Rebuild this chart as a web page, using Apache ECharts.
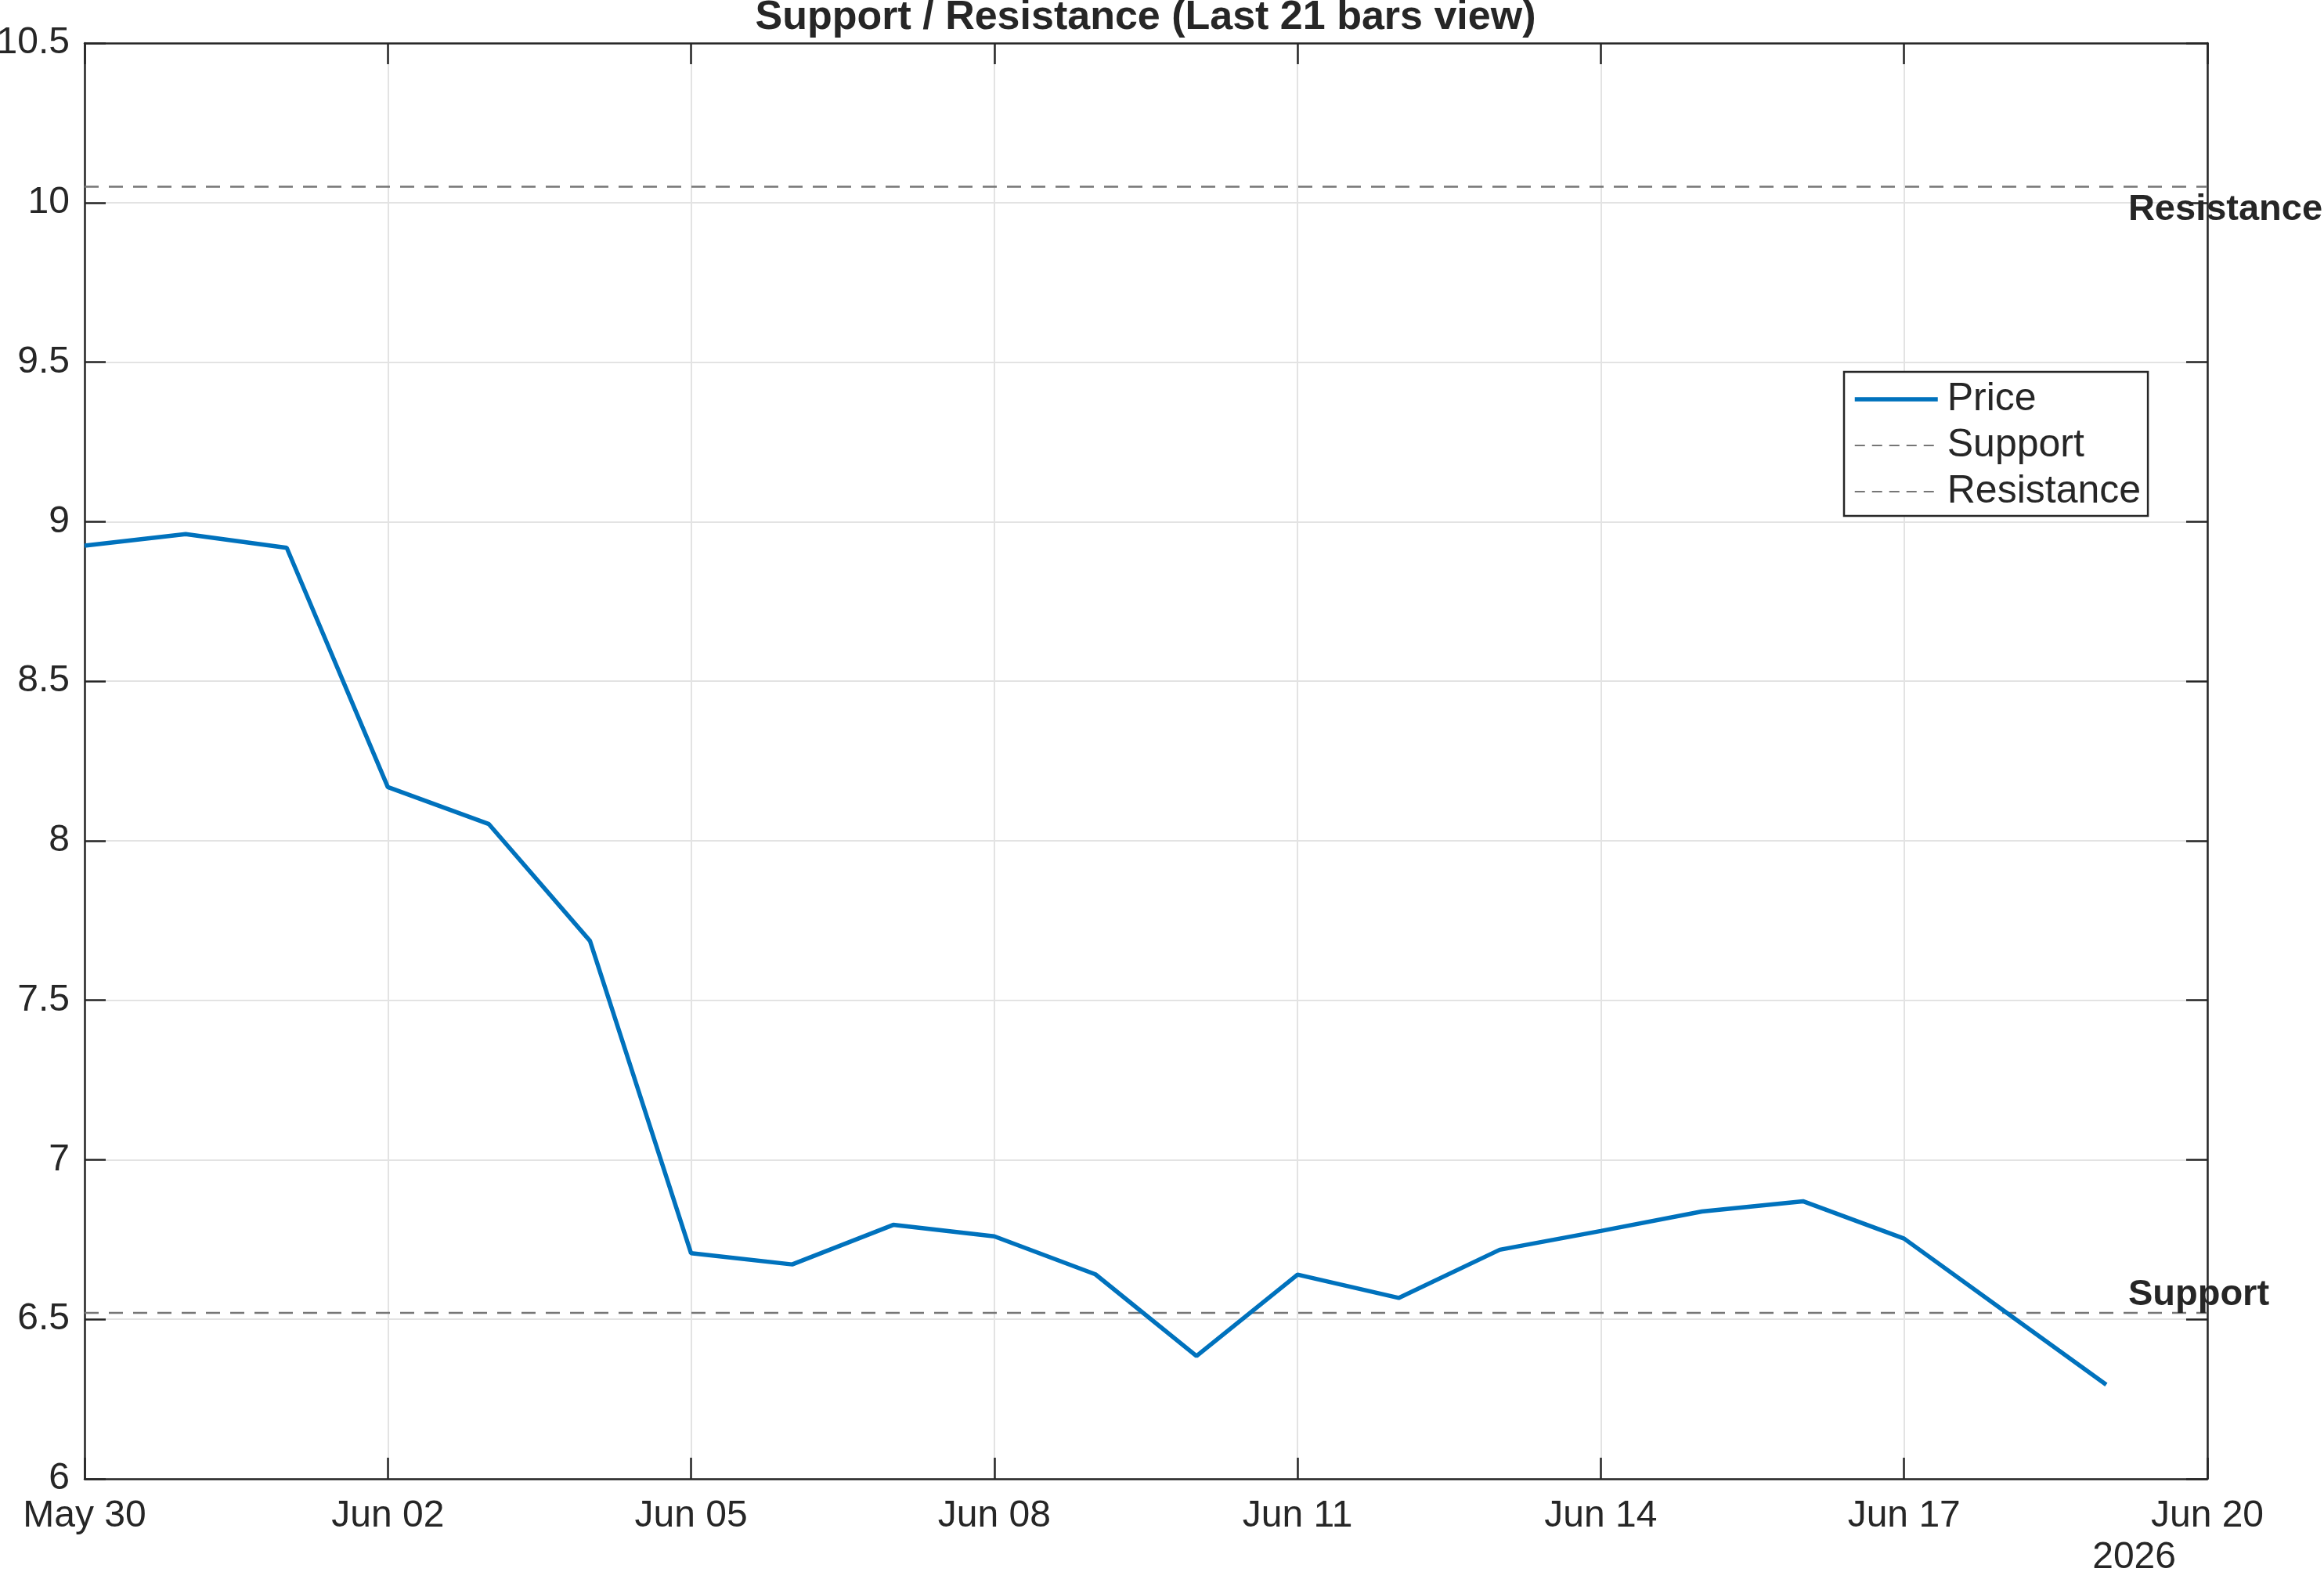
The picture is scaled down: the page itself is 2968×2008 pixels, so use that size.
<!DOCTYPE html>
<html>
<head>
<meta charset="utf-8">
<script src="https://cdn.jsdelivr.net/npm/echarts@6/dist/echarts.min.js"></script>
<style>
html,body{margin:0;padding:0;background:#fff;}
#chart{width:2968px;height:2008px;}
</style>
</head>
<body>
<div id="chart"></div>
<script>
// ---- data ----
const dates = ['2026-05-30','2026-05-31','2026-06-01','2026-06-02','2026-06-03','2026-06-04','2026-06-05',
  '2026-06-06','2026-06-07','2026-06-08','2026-06-09','2026-06-10','2026-06-11','2026-06-12',
  '2026-06-13','2026-06-14','2026-06-15','2026-06-16','2026-06-17','2026-06-18','2026-06-19'];
const prices = [8.925, 8.961, 8.918, 8.168, 8.052, 7.686, 6.707,
  6.672, 6.796, 6.760, 6.641, 6.385, 6.640, 6.567,
  6.718, 6.777, 6.838, 6.870, 6.753, 6.524, 6.295];
const supportLevel = 6.52;
const resistanceLevel = 10.05;
const xStart = '2026-05-30';
const xEnd = '2026-06-20';
const yMin = 6, yMax = 10.5, yStep = 0.5;
const xStepDays = 3;
const titleText = 'Support / Resistance (Last 21 bars view)';
const yearLabel = '2026';
const monthNames = ['Jan','Feb','Mar','Apr','May','Jun','Jul','Aug','Sep','Oct','Nov','Dec'];

// ---- helpers ----
const DAY = 86400000;
const t0 = Date.parse(xStart + 'T00:00:00Z');
const toDay = s => (Date.parse(s + 'T00:00:00Z') - t0) / DAY;
const xMax = toDay(xEnd);
const fmtDay = v => {
  const d = new Date(t0 + v * DAY);
  const dd = String(d.getUTCDate()).padStart(2, '0');
  return monthNames[d.getUTCMonth()] + ' ' + dd;
};
const priceData = dates.map((d, i) => [toDay(d), prices[i]]);
const lastDay = toDay(dates[dates.length - 1]);

const FONT = "'Liberation Sans', Arial, Helvetica, sans-serif";
const TXT = '#262626';
const axisLineStyle = { color: TXT, width: 2.5 };
const gridColor = '#e3e3e3';
const LEVEL_COLOR = '#767676';

const chart = echarts.init(document.getElementById('chart'), null, { renderer: 'canvas' });
chart.setOption({
  backgroundColor: '#fff',
  animation: false,
  title: {
    text: titleText, left: 1463, textAlign: 'center', top: -3, padding: 0,
    textStyle: { fontFamily: FONT, fontSize: 52, fontWeight: 'bold', color: TXT }
  },
  grid: { left: 108, right: 149, top: 55, bottom: 119, containLabel: false, outerBoundsMode: 'none' },
  legend: {
    orient: 'vertical', left: 2355, top: 475,
    data: [
      { name: 'Price', lineStyle: { width: 5.5 } },
      { name: 'Support', lineStyle: { width: 2.2, type: [13, 9] } },
      { name: 'Resistance', lineStyle: { width: 2.2, type: [13, 9] } }
    ],
    backgroundColor: '#fff', borderColor: TXT, borderWidth: 2.5, borderRadius: 0,
    padding: [9, 9, 5, 11], itemGap: 7, itemWidth: 106, itemHeight: 20,
    itemStyle: { opacity: 0 },
    lineStyle: { width: 'inherit' },
    textStyle: { fontFamily: FONT, fontSize: 50, color: TXT, lineHeight: 52, padding: [0, 0, 0, 7] }
  },
  xAxis: [{
    type: 'value', min: 0, max: xMax, interval: xStepDays, position: 'bottom',
    axisLine: { show: true, onZero: false, lineStyle: axisLineStyle },
    axisTick: { show: true, inside: true, length: 27, lineStyle: axisLineStyle },
    axisLabel: { formatter: fmtDay, fontFamily: FONT, fontSize: 48, color: TXT, margin: 24 },
    splitLine: { show: true, lineStyle: { color: gridColor, width: 2 } }
  }, {
    type: 'value', min: 0, max: xMax, interval: xStepDays, position: 'top',
    axisLine: { show: true, onZero: false, lineStyle: axisLineStyle },
    axisTick: { show: true, inside: true, length: 27, lineStyle: axisLineStyle },
    axisLabel: { show: false }, splitLine: { show: false }
  }],
  yAxis: [{
    type: 'value', min: yMin, max: yMax, interval: yStep, position: 'left',
    axisLine: { show: true, onZero: false, lineStyle: axisLineStyle },
    axisTick: { show: true, inside: true, length: 27, lineStyle: axisLineStyle },
    axisLabel: { fontFamily: FONT, fontSize: 48, color: TXT, margin: 19 },
    splitLine: { show: true, lineStyle: { color: gridColor, width: 2 } }
  }, {
    type: 'value', min: yMin, max: yMax, interval: yStep, position: 'right',
    axisLine: { show: true, onZero: false, lineStyle: axisLineStyle },
    axisTick: { show: true, inside: true, length: 27, lineStyle: axisLineStyle },
    axisLabel: { show: false }, splitLine: { show: false }
  }],
  series: [{
    name: 'Price', type: 'line', data: priceData, symbol: 'none',
    lineStyle: { color: '#0072BD', width: 5.5 }, itemStyle: { color: '#0072BD' }, z: 5
  }, {
    name: 'Support', type: 'line', data: [[0, supportLevel], [xMax, supportLevel]], symbol: 'none',
    lineStyle: { color: LEVEL_COLOR, width: 2.5, type: [18, 13] }, itemStyle: { color: LEVEL_COLOR }, z: 3
  }, {
    name: 'Resistance', type: 'line', data: [[0, resistanceLevel], [xMax, resistanceLevel]], symbol: 'none',
    lineStyle: { color: LEVEL_COLOR, width: 2.5, type: [18, 13] }, itemStyle: { color: LEVEL_COLOR }, z: 3
  }, {
    name: 'labels', type: 'scatter', symbolSize: 0, silent: true, z: 6,
    itemStyle: { opacity: 1 },
    data: [
      { value: [lastDay, resistanceLevel], label: { formatter: 'Resistance', offset: [0, 30] } },
      { value: [lastDay, supportLevel], label: { formatter: 'Support', offset: [0, -23] } }
    ],
    label: { show: true, position: 'right', distance: 28, fontFamily: FONT, fontSize: 47, fontWeight: 'bold', color: TXT, opacity: 1 }
  }],
  graphic: [{
    type: 'text', right: 2968 - 2779, top: 1986 - 20,
    style: { text: yearLabel, font: "48px 'Liberation Sans', Arial, sans-serif", fill: TXT }
  }]
});
</script>
</body>
</html>
